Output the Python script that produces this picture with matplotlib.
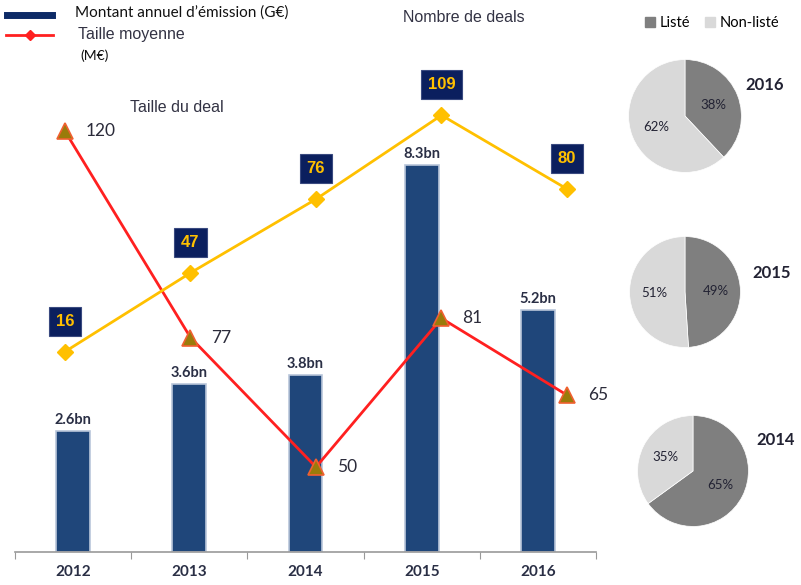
import matplotlib.pyplot as plt
from matplotlib.lines import Line2D
from matplotlib.patches import Patch

years = ["2012", "2013", "2014", "2015", "2016"]
montant = [2.6, 3.6, 3.8, 8.3, 5.2]          # G€
taille = [120, 77, 50, 81, 65]               # M€
nb_deals = [16, 47, 76, 109, 80]

pie_years = ["2016", "2015", "2014"]
liste = [38, 49, 65]
non_liste = [62, 51, 35]

W, H = 801, 585
fig = plt.figure(figsize=(W / 100, H / 100), dpi=100)
fig.patch.set_facecolor("white")

rect = [15 / W, (H - 552) / H, 581 / W, 512 / H]
navy = "#1f467a"
dark = "#2b2b3a"

# bars
ax = fig.add_axes(rect)
x = range(len(years))
bars = ax.bar(x, montant, width=0.29, color=navy, edgecolor="#b9c6da", linewidth=1.2)
ax.set_xlim(-0.5, 4.5)
ax.set_ylim(0, 512 / 46.6)
for i, v in enumerate(montant):
    ax.annotate(f"{v}bn", (i, v), xytext=(0, 3), textcoords="offset points",
                ha="center", va="bottom", fontsize=10.5, fontweight="bold",
                family="Lato", color="#2a2f45")
ax.set_xticks([i - 0.5 for i in range(6)])
ax.set_xticklabels([])
ax.set_xticks(list(x), minor=True)
ax.set_xticklabels(years, minor=True, fontsize=11, fontweight="bold",
                   family="Lato", color="#2a2f45")
ax.tick_params(axis="x", which="major", length=5, color="#999999", direction="out")
ax.tick_params(axis="x", which="minor", length=0, pad=9)
ax.set_yticks([])
for s in ["top", "left", "right"]:
    ax.spines[s].set_visible(False)
ax.spines["bottom"].set_color("#999999")
ax.spines["bottom"].set_linewidth(1.2)

# taille moyenne (red)
ax_r = fig.add_axes(rect, facecolor="none")
ax_r.plot(x, taille, color="#ff2020", lw=2, marker="^", markersize=11,
          markerfacecolor="#9a7b0a", markeredgecolor="#f06030", markeredgewidth=1.2,
          zorder=3)
ax_r.set_xlim(-0.398, 4.231)
ax_r.set_ylim(32.3, 139)
ax_r.axis("off")
for i, v in enumerate(taille):
    ax_r.annotate(str(v), (i, v), xytext=(15, 0), textcoords="offset points",
                  ha="left", va="center", fontsize=12.5, family="Lato", color=dark)

# nombre de deals (yellow)
ax_y = fig.add_axes(rect, facecolor="none")
ax_y.plot(x, nb_deals, color="#ffc000", lw=2, marker="D", markersize=8,
          markerfacecolor="#ffc000", markeredgecolor="#ffc000", zorder=3)
ax_y.set_xlim(-0.398, 4.231)
ax_y.set_ylim(-62.8, 138.6)
ax_y.axis("off")
for i, v in enumerate(nb_deals):
    ax_y.annotate(str(v), (i, v), xytext=(0, 22), textcoords="offset points",
                  ha="center", va="center", fontsize=12, fontweight="bold",
                  family="Liberation Sans", color="#ffc000",
                  bbox=dict(boxstyle="square,pad=0.42", fc="#0b1f5e", ec="#3a4a80", lw=0.8))

# titles / legend text
fig.text(130 / W, 1 - 108 / H, "Taille du deal", fontsize=11.5, family="Liberation Sans",
         color="#333344", va="center")
fig.text(403 / W, 1 - 17 / H, "Nombre de deals", fontsize=11.5, family="Liberation Sans",
         color="#333344", va="center")

fig.add_artist(Line2D([7 / W, 52 / W], [1 - 15 / H, 1 - 15 / H], color="#0d2a66", lw=5))
fig.text(75 / W, 1 - 13 / H, "Montant annuel d’émission (G€)", fontsize=11,
         family="Lato", color="#111111", va="center")
fig.add_artist(Line2D([6 / W, 53 / W], [1 - 35 / H, 1 - 35 / H], color="#ff2020", lw=2))
fig.add_artist(Line2D([29.5 / W], [1 - 35 / H], color="#ff2020", marker="D", markersize=5))
fig.text(78 / W, 1 - 35 / H, "Taille moyenne", fontsize=11.5, family="Liberation Sans",
         color="#333344", va="center")
fig.text(80 / W, 1 - 56 / H, "(M€)", fontsize=10, family="Lato", color="#111111", va="center")

# pies
pie_centers = [(685, 116, 57), (685, 292, 56), (693, 471, 56)]
label_pos = [(765, 85), (772, 273), (776, 440)]
for k in range(3):
    cx, cy, r = pie_centers[k]
    pax = fig.add_axes([(cx - r) / W, (H - cy - r) / H, 2 * r / W, 2 * r / H])
    pax.pie([liste[k], non_liste[k]], colors=["#7f7f7f", "#d9d9d9"], startangle=90,
            counterclock=False, autopct="%d%%", pctdistance=0.55,
            wedgeprops=dict(edgecolor="white", linewidth=0.5),
            textprops=dict(fontsize=9.5, family="Lato", color="#222233"))
    pax.set_xlim(-1.01, 1.01)
    pax.set_ylim(-1.01, 1.01)
    lx, ly = label_pos[k]
    fig.text(lx / W, 1 - ly / H, pie_years[k], fontsize=12, fontweight="bold",
             family="Lato", color="#222233", ha="center", va="center")

handles = [Patch(color="#7f7f7f"), Patch(color="#d9d9d9")]
fig.legend(handles, ["Listé", "Non-listé"], loc="center left",
           bbox_to_anchor=(632 / W, 1 - 23 / H), ncol=2, frameon=False,
           handlelength=0.7, handleheight=0.7, handletextpad=0.3, columnspacing=1.0,
           prop=dict(family="Lato", size=10.5))

fig.savefig("out.png", dpi=100)
